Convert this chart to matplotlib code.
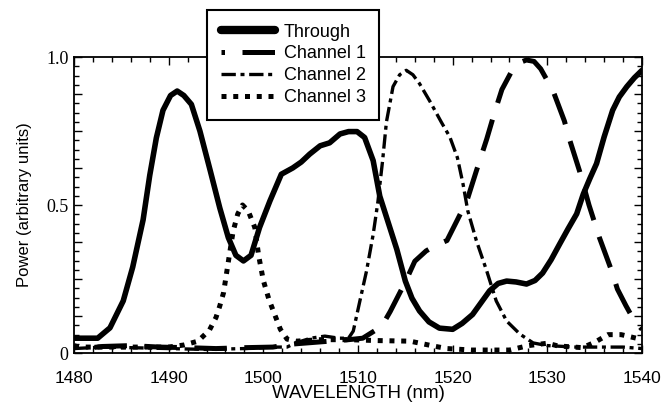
import numpy as np
import matplotlib
matplotlib.use("Agg")
import matplotlib.pyplot as plt
from matplotlib.ticker import MultipleLocator, FuncFormatter

# wavelength (nm) / power
through_x = [1480, 1482.5, 1483.8, 1485.2, 1486.2, 1487.3, 1488.0, 1488.7, 1489.4, 1490.2,
             1490.9, 1491.6, 1492.4, 1493.3, 1494.4, 1495.4, 1496.3, 1497.1, 1497.9, 1498.7,
             1499.6, 1500.7, 1501.9, 1503.1, 1504.0, 1504.9, 1506.0, 1507.0, 1508.1, 1509.0,
             1509.9, 1510.7, 1511.6, 1512.3, 1513.2, 1514.1, 1515.0, 1515.7, 1516.5, 1517.5,
             1518.6, 1520.0, 1521.0, 1522.1, 1523.0, 1523.9, 1524.8, 1525.7, 1526.7, 1527.8,
             1528.7, 1529.5, 1530.4, 1531.3, 1532.2, 1533.1, 1533.8, 1534.5, 1535.2, 1536.0,
             1536.9, 1537.6, 1538.4, 1539.2, 1540]
through_y = [0.05, 0.05, 0.085, 0.176, 0.29, 0.45, 0.60, 0.727, 0.82, 0.87,
             0.885, 0.87, 0.84, 0.75, 0.615, 0.49, 0.39, 0.33, 0.311, 0.33,
             0.424, 0.514, 0.604, 0.625, 0.645, 0.672, 0.70, 0.71, 0.74, 0.748,
             0.748, 0.728, 0.65, 0.53, 0.44, 0.35, 0.243, 0.185, 0.142, 0.105,
             0.084, 0.08, 0.10, 0.13, 0.17, 0.21, 0.235, 0.243, 0.24, 0.233,
             0.245, 0.27, 0.315, 0.368, 0.42, 0.47, 0.537, 0.59, 0.64, 0.73,
             0.82, 0.865, 0.90, 0.93, 0.955]

ch1_x = [1480, 1481, 1483, 1486, 1489, 1492, 1495, 1498, 1501, 1503, 1505, 1507, 1509,
         1510.5, 1511.5, 1512.5, 1513.4, 1515.0, 1516.0, 1517.2, 1518.3, 1519.4, 1520.5,
         1521.5, 1522.5, 1523.6, 1524.4, 1525.2, 1526.2, 1527.0, 1527.8, 1528.6, 1529.3,
         1530.0, 1530.6, 1531.8, 1532.4, 1533.4, 1534.4, 1535.5, 1536.8, 1537.4, 1538.3,
         1539.2, 1540]
ch1_y = [0.025, 0.015, 0.022, 0.025, 0.02, 0.018, 0.015, 0.018, 0.02, 0.03, 0.035, 0.04, 0.045,
         0.05, 0.07, 0.09, 0.14, 0.24, 0.31, 0.345, 0.365, 0.38, 0.45,
         0.514, 0.615, 0.723, 0.81, 0.89, 0.95, 0.98, 0.99, 0.985, 0.96,
         0.92, 0.886, 0.784, 0.716, 0.615, 0.50, 0.39, 0.277, 0.216, 0.16,
         0.108, 0.08]

ch2_x = [1480, 1483, 1486, 1490, 1494, 1498, 1501, 1502.5, 1503.5, 1505, 1506.5, 1508, 1509,
         1509.5, 1510.2, 1510.9, 1511.6, 1512.1, 1512.6, 1513.0, 1513.7, 1514.4, 1515.1,
         1515.8, 1516.5, 1517.6, 1518.8, 1519.7, 1520.5, 1521.1, 1521.6, 1522.5, 1523.6,
         1524.6, 1525.7, 1527.1, 1528.5, 1530, 1533, 1536, 1538, 1540]
ch2_y = [0.015, 0.02, 0.018, 0.015, 0.012, 0.015, 0.02, 0.02, 0.035, 0.05, 0.057, 0.05, 0.05,
         0.074, 0.176, 0.277, 0.40, 0.51, 0.65, 0.78, 0.90, 0.94, 0.955,
         0.94, 0.91, 0.85, 0.78, 0.73, 0.66, 0.57, 0.48, 0.38, 0.277,
         0.176, 0.108, 0.064, 0.034, 0.025, 0.02, 0.02, 0.02, 0.015]

ch3_x = [1480, 1485, 1490, 1491.6, 1493.1, 1494.3, 1495.0, 1495.4, 1495.8, 1496.2, 1496.8,
         1497.3, 1497.8, 1498.4, 1499.1, 1499.5, 1500.0, 1500.6, 1501.2, 1501.8, 1502.5,
         1503.5, 1506, 1509, 1512, 1515.5, 1517.9, 1519.4, 1522, 1526, 1528, 1530, 1531.1,
         1533.7, 1535, 1536.4, 1537.8, 1539.4, 1540]
ch3_y = [0.02, 0.02, 0.02, 0.027, 0.04, 0.077, 0.12, 0.159, 0.204, 0.287, 0.41,
         0.47, 0.50, 0.48, 0.424, 0.33, 0.245, 0.18, 0.13, 0.08, 0.047,
         0.04, 0.045, 0.045, 0.042, 0.04, 0.024, 0.015, 0.01, 0.01, 0.025, 0.033, 0.024,
         0.018, 0.036, 0.062, 0.062, 0.05, 0.05]

fig = plt.figure(figsize=(6.71, 4.05), dpi=100)
ax = fig.add_axes([74 / 671, 1 - 353 / 405, 568 / 671, 296 / 405])

ax.plot(through_x, through_y, color='black', lw=4.0, solid_capstyle='round',
        solid_joinstyle='round', label='Through')
ax.plot(ch1_x, ch1_y, color='black', lw=3.6, linestyle=(5.8, (6.5, 3.5)),
        dash_capstyle='butt', label='Channel 1')
ax.plot(ch2_x, ch2_y, color='black', lw=2.4, linestyle=(0, (4.3, 1.4, 1.2, 1.4)),
        label='Channel 2')
ax.plot(ch3_x, ch3_y, color='black', lw=3.6, linestyle=(0, (1, 1.35)),
        dash_capstyle='butt', label='Channel 3')

ax.set_xlim(1480, 1540)
ax.set_ylim(0, 1.0)

ax.xaxis.set_major_locator(MultipleLocator(10))
ax.xaxis.set_minor_locator(MultipleLocator(2))
ax.yaxis.set_major_locator(MultipleLocator(0.125))
ax.yaxis.set_minor_locator(MultipleLocator(1 / 32))


def ylab(v, pos):
    if abs(v) < 1e-9:
        return '0'
    if abs(v - 0.5) < 1e-9:
        return '0.5'
    if abs(v - 1.0) < 1e-9:
        return '1.0'
    return ''


ax.yaxis.set_major_formatter(FuncFormatter(ylab))

ax.tick_params(which='both', direction='in', top=True, right=True, width=1.0, color='black')
ax.tick_params(which='major', length=6)
ax.tick_params(which='minor', length=3.5)
ax.tick_params(axis='x', which='major', pad=13)
ax.tick_params(axis='y', which='major', pad=4)

for t in ax.get_xticklabels():
    t.set_fontfamily('Liberation Sans')
    t.set_fontsize(12.5)
for t in ax.get_yticklabels():
    t.set_fontfamily('Liberation Serif')
    t.set_fontsize(13)

for s in ax.spines.values():
    s.set_linewidth(1.3)

ax.set_xlabel('WAVELENGTH (nm)', fontfamily='Liberation Sans', fontsize=13.5, labelpad=-1)
ax.set_ylabel('Power (arbitrary units)', fontfamily='Liberation Sans', fontsize=12, labelpad=10)

leg = ax.legend(loc='upper left', bbox_to_anchor=(207 / 671, 1 - 10 / 405),
                bbox_transform=fig.transFigure, frameon=True, fancybox=False,
                framealpha=1, edgecolor='black', handlelength=3.0, handletextpad=0.5,
                borderpad=0.75, labelspacing=0.27, borderaxespad=0,
                prop={'family': 'Liberation Sans', 'size': 13})
leg.get_frame().set_linewidth(1.5)
leg.legend_handles[0].set_linewidth(6)
leg.set_zorder(10)

fig.savefig('out.png', dpi=100)
